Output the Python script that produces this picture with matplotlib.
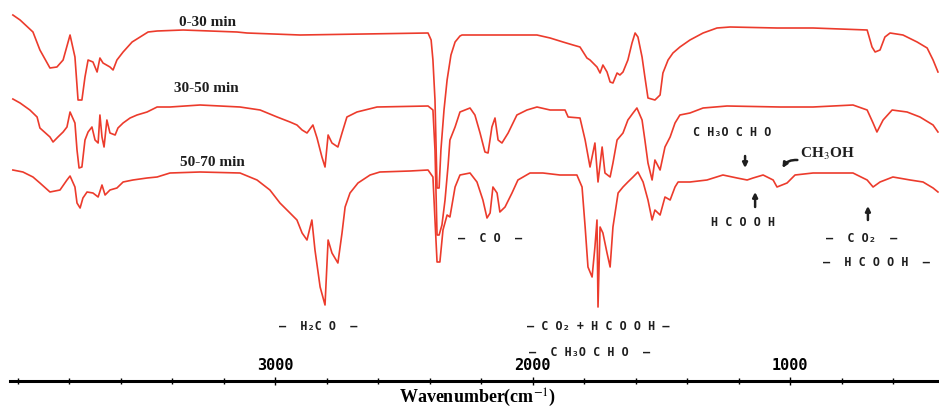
import numpy as np
import matplotlib.pyplot as plt
from matplotlib.ticker import MultipleLocator, FixedLocator

plt.rcParams['mathtext.fontset'] = 'stix'

# spectra (wavenumber in cm-1, signal in a.u. with offsets)
wn_0_30 = [4018, 3990, 3940, 3913, 3874, 3847, 3823, 3796, 3777, 3765, 3750, 3738, 3726, 3707, 3691,
           3680, 3668, 3641, 3629, 3614, 3590, 3555, 3524, 3493, 3458, 3357, 3148, 3109, 2903, 2406,
           2394, 2387, 2379, 2371, 2363, 2356, 2344, 2332, 2317, 2301, 2282, 2274, 2010, 1983, 1932,
           1882, 1843, 1816, 1789, 1777, 1750, 1738, 1727, 1711, 1699, 1688, 1672, 1661, 1649, 1630,
           1614, 1602, 1591, 1575, 1564, 1552, 1525, 1505, 1494, 1474, 1455, 1428, 1389, 1338, 1284,
           1233, 1051, 911, 701, 682, 670, 651, 632, 612, 562, 507, 468, 445, 426]
sig_0_30 = [385, 380, 368, 350, 332, 333, 340, 365, 343, 300, 300, 323, 340, 338, 328,
            342, 337, 333, 330, 340, 348, 358, 363, 368, 369, 370, 368, 367, 365, 367,
            360, 340, 300, 212, 212, 250, 290, 320, 345, 358, 364, 365, 365, 365, 362,
            358, 355, 353, 342, 340, 333, 327, 335, 328, 318, 317, 327, 325, 328, 340,
            357, 367, 363, 343, 323, 302, 300, 305, 327, 340, 347, 353, 360, 367, 372,
            373, 372, 372, 370, 353, 348, 350, 363, 367, 365, 358, 352, 340, 328]

wn_30_50 = [4018, 3990, 3952, 3924, 3913, 3874, 3862, 3843, 3823, 3808, 3796, 3777, 3769, 3761, 3750,
            3738, 3726, 3711, 3699, 3687, 3680, 3672, 3664, 3653, 3641, 3621, 3610, 3590, 3563, 3536,
            3497, 3458, 3408, 3291, 3136, 3058, 2992, 2942, 2915, 2895, 2876, 2853, 2837, 2818, 2806,
            2794, 2779, 2756, 2740, 2721, 2682, 2604, 2406, 2387, 2379, 2371, 2363, 2352, 2340, 2328,
            2321, 2301, 2282, 2243, 2224, 2204, 2185, 2173, 2158, 2146, 2134, 2119, 2095, 2061, 2022,
            1983, 1932, 1874, 1862, 1816, 1796, 1777, 1758, 1746, 1730, 1719, 1699, 1688, 1672, 1649,
            1630, 1610, 1595, 1575, 1564, 1552, 1536, 1525, 1505, 1486, 1466, 1447, 1428, 1389, 1338,
            1245, 1039, 911, 756, 701, 678, 663, 639, 604, 546, 496, 445, 426]
sig_30_50 = [301, 297, 290, 283, 272, 263, 258, 263, 268, 273, 288, 277, 250, 232, 233,
             260, 268, 273, 260, 257, 285, 263, 253, 280, 267, 265, 272, 277, 282, 285,
             288, 293, 293, 295, 293, 290, 283, 278, 275, 270, 267, 275, 262, 243, 233,
             265, 257, 253, 267, 283, 288, 293, 294, 290, 250, 165, 165, 175, 200, 235,
             260, 273, 288, 292, 285, 267, 248, 247, 273, 282, 260, 257, 267, 285, 290,
             293, 290, 290, 283, 282, 260, 233, 257, 218, 253, 227, 223, 237, 260, 267,
             280, 287, 292, 280, 260, 237, 220, 240, 230, 253, 263, 277, 285, 287, 292,
             294, 293, 293, 295, 290, 277, 268, 280, 290, 288, 283, 275, 268]

wn_50_70 = [4018, 3979, 3940, 3913, 3874, 3835, 3808, 3796, 3777, 3769, 3757, 3746, 3730, 3707, 3687,
            3672, 3660, 3641, 3614, 3590, 3552, 3497, 3458, 3408, 3291, 3136, 3070, 3020, 2981, 2942,
            2915, 2895, 2876, 2857, 2845, 2825, 2806, 2794, 2779, 2756, 2740, 2728, 2709, 2678, 2631,
            2593, 2476, 2406, 2387, 2379, 2371, 2360, 2348, 2332, 2321, 2301, 2282, 2243, 2216, 2193,
            2177, 2165, 2154, 2138, 2127, 2107, 2080, 2057, 2010, 1960, 1894, 1828, 1808, 1796, 1785,
            1769, 1758, 1750, 1746, 1738, 1727, 1711, 1699, 1688, 1668, 1649, 1630, 1610, 1591, 1571,
            1552, 1536, 1525, 1505, 1486, 1466, 1447, 1435, 1389, 1323, 1261, 1206, 1167, 1144, 1105,
            1066, 1051, 1012, 981, 911, 756, 701, 678, 651, 601, 534, 484, 445, 426]
sig_50_70 = [230, 228, 223, 217, 208, 210, 220, 224, 213, 197, 192, 202, 208, 207, 203,
             215, 205, 210, 212, 218, 220, 222, 223, 227, 228, 227, 220, 210, 197, 187,
             180, 167, 160, 180, 150, 113, 95, 160, 147, 137, 167, 193, 207, 217, 225,
             228, 229, 230, 223, 180, 138, 138, 170, 185, 183, 213, 225, 227, 218, 200,
             182, 187, 213, 207, 188, 193, 207, 220, 227, 227, 225, 225, 213, 173, 133,
             123, 153, 180, 93, 173, 167, 147, 133, 173, 207, 213, 218, 223, 228, 218,
             200, 180, 190, 185, 203, 200, 213, 218, 218, 220, 225, 222, 220, 222, 225,
             220, 213, 217, 225, 227, 227, 220, 213, 218, 223, 220, 218, 212, 208]

labels = ['0-30 min', '30-50 min', '50-70 min']
tick_values = [3000, 2000, 1000]
tick_labels = ['3000', '2000', '1000']

red = '#ec3b2c'
ink = '#1e1e1e'
mono = 'DejaVu Sans Mono'
serif = 'Liberation Serif'

fig = plt.figure(figsize=(9.39, 4.08), dpi=100)
ax = fig.add_axes([0, 0, 1, 1])

for wn, sig in [(wn_0_30, sig_0_30), (wn_30_50, sig_30_50), (wn_50_70, sig_50_70)]:
    ax.plot(wn, sig, color=red, lw=1.2)

ax.set_xlim(4068, 422)
ax.set_ylim(-8, 400)

# axis line with labels above it
for s in ['bottom', 'left', 'right']:
    ax.spines[s].set_visible(False)
ax.spines['top'].set_position(('data', 19))
ax.spines['top'].set_bounds(4029, 422)
ax.spines['top'].set_linewidth(2.2)
ax.xaxis.set_ticks_position('top')
ax.xaxis.set_major_locator(FixedLocator(tick_values))
ax.set_xticklabels(tick_labels)
ax.xaxis.set_minor_locator(MultipleLocator(200))
ax.tick_params(axis='x', which='major', direction='inout', length=6, width=1, pad=3,
               labelsize=11)
ax.tick_params(axis='x', which='minor', direction='inout', length=4, width=1)
for t in ax.get_xticklabels():
    t.set_fontfamily(mono)
    t.set_fontweight('bold')
ax.set_yticks([])

fig.text(0.509, 0.012, 'Wavenumber(cm$^{-1}$)', ha='center', va='baseline',
         fontsize=13, fontweight='bold', family=serif)

# trace labels
for txt, (x, y) in zip(labels, [(3264, 378), (3268, 311), (3245, 237)]):
    ax.text(x, y, txt, ha='center', va='center', fontsize=11, fontweight='bold',
            family=serif, color=ink)

# band assignments
kw = dict(ha='center', va='center', fontsize=8.5, fontweight='bold', family=mono, color=ink)
ax.text(2833, 73, '–  H₂C O  –', **kw)
ax.text(2165, 162, '–  C O  –', **kw)
ax.text(1746, 73, '– C O₂ + H C O O H –', **kw)
ax.text(1777, 47, '–  C H₃O C H O  –', **kw)
ax.text(1226, 267, 'C H₃O C H O', **kw)
ax.text(1183, 177, 'H C O O H', **kw)
ax.text(721, 162, '–  C O₂  –', **kw)
ax.text(663, 138, '–  H C O O H  –', **kw)
ax.text(962, 246, 'CH$_3$OH', ha='left', va='center', fontsize=11, fontweight='bold',
        family=serif, color=ink)

arrow = dict(arrowstyle='-|>', lw=1.8, color=ink, mutation_scale=7, shrinkA=0, shrinkB=0)
ax.annotate('', xy=(1175, 232), xytext=(1175, 244), arrowprops=arrow)
ax.annotate('', xy=(1136, 208), xytext=(1136, 193), arrowprops=arrow)
ax.annotate('', xy=(698, 194), xytext=(698, 180), arrowprops=arrow)
ax.annotate('', xy=(1030, 232), xytext=(972, 240),
            arrowprops=dict(arrowstyle='-|>', lw=1.8, color=ink, mutation_scale=7,
                            shrinkA=0, shrinkB=0, connectionstyle='arc3,rad=0.3'))

fig.savefig('out.png', dpi=100)
